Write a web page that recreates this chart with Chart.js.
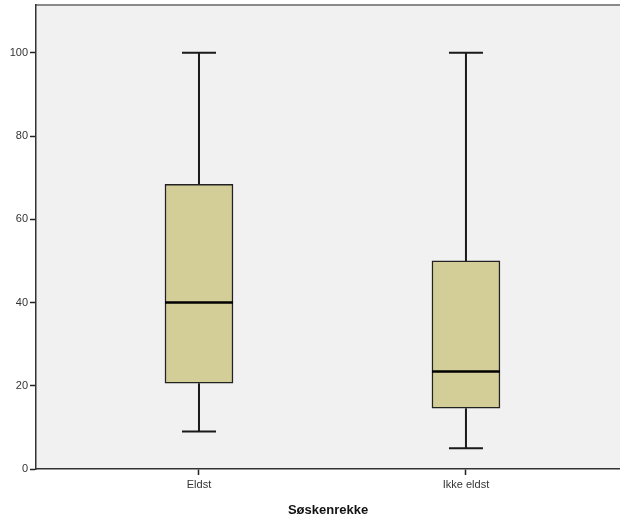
<!DOCTYPE html>
<html><head><meta charset="utf-8">
<script src="https://cdn.jsdelivr.net/npm/chart.js@4/dist/chart.umd.min.js"></script>
<style>html,body{margin:0;padding:0;background:#fff}#wrap{width:620px;height:524px}</style>
</head><body><div id="wrap"><canvas id="c" width="620" height="524"></canvas></div>
<script>
const categories = ["Eldst", "Ikke eldst"];
const minVals = [9, 5];
const q1Vals = [20.6, 14.6];
const medianVals = [40, 23.4];
const q3Vals = [68.4, 50];
const maxVals = [100, 100];
const yTicks = [0, 20, 40, 60, 80, 100];
const xTitle = "Søskenrekke";

const positions = categories.map((c, i) => i + 1);

const bgPlugin = {
  id: 'bg',
  beforeDraw(chart) {
    const {ctx, chartArea: a} = chart;
    ctx.save();
    ctx.fillStyle = '#f0f1f0';
    ctx.fillRect(a.left, a.top, a.right - a.left, a.bottom - a.top);
    ctx.strokeStyle = '#8a8a8a';
    ctx.lineWidth = 2;
    ctx.beginPath(); ctx.moveTo(a.left, a.top); ctx.lineTo(a.right, a.top); ctx.stroke();
    ctx.restore();
  },
  beforeDatasetsDraw(chart) {
    const {ctx, scales: {x, y}} = chart;
    ctx.save();
    ctx.strokeStyle = '#1a1a1a';
    ctx.lineWidth = 2;
    positions.forEach((p, i) => {
      const px = x.getPixelForValue(p);
      ctx.beginPath();
      ctx.moveTo(px, y.getPixelForValue(maxVals[i])); ctx.lineTo(px, y.getPixelForValue(q3Vals[i]));
      ctx.moveTo(px, y.getPixelForValue(q1Vals[i])); ctx.lineTo(px, y.getPixelForValue(minVals[i]));
      const half = 17;
      ctx.moveTo(px - half, y.getPixelForValue(maxVals[i])); ctx.lineTo(px + half, y.getPixelForValue(maxVals[i]));
      ctx.moveTo(px - half, y.getPixelForValue(minVals[i])); ctx.lineTo(px + half, y.getPixelForValue(minVals[i]));
      ctx.stroke();
    });
    ctx.restore();
  },
  afterDatasetsDraw(chart) {
    const {ctx, scales: {x, y}} = chart;
    ctx.save();
    ctx.strokeStyle = '#000';
    ctx.lineWidth = 2.5;
    positions.forEach((p, i) => {
      const px = x.getPixelForValue(p);
      const py = y.getPixelForValue(medianVals[i]);
      ctx.beginPath(); ctx.moveTo(px - 34, py); ctx.lineTo(px + 34, py); ctx.stroke();
    });
    ctx.restore();
  }
};

new Chart(document.getElementById('c'), {
  type: 'bar',
  data: {
    datasets: [{
      data: positions.map((p, i) => ({x: p, y: [q1Vals[i], q3Vals[i]]})),
      backgroundColor: '#d3ce97',
      borderColor: '#222',
      borderWidth: 1.5,
      borderSkipped: false,
      barThickness: 68
    }]
  },
  options: {
    responsive: false,
    animation: false,
    layout: {padding: {top: 5, right: 0, left: 0, bottom: 0}},
    plugins: {legend: {display: false}, tooltip: {enabled: false}},
    scales: {
      x: {
        type: 'linear',
        offset: false,
        min: 0.3895, max: 2.577,
        afterBuildTicks(s) { s.ticks = positions.map(v => ({value: v})); },
        afterFit(s) { s.height = 55; s.paddingLeft = 0; s.paddingRight = 0; },
        ticks: {
          callback: (v) => categories[positions.indexOf(v)] ?? '',
          font: {family: 'Liberation Sans', size: 11},
          color: '#333', padding: 3, maxRotation: 0
        },
        grid: {display: true, offset: false, drawOnChartArea: false, drawTicks: true, tickLength: 6, tickColor: '#222', tickWidth: 1.5},
        border: {display: true, color: '#333', width: 1.5},
        title: {display: true, text: xTitle, font: {family: 'Liberation Sans', size: 13, weight: 'bold'}, color: '#111', padding: {top: 0, bottom: 6}}
      },
      y: {
        min: 0, max: 111.5,
        afterBuildTicks(s) { s.ticks = yTicks.map(v => ({value: v})); },
        afterFit(s) { s.width = 36; s.paddingTop = 0; s.paddingBottom = 0; },
        ticks: {font: {family: 'Liberation Sans', size: 11}, color: '#333', padding: 2},
        grid: {display: true, drawOnChartArea: false, drawTicks: true, tickLength: 6, tickColor: '#222', tickWidth: 1.5},
        border: {display: true, color: '#333', width: 1.5}
      }
    }
  },
  plugins: [bgPlugin]
});
</script></body></html>
